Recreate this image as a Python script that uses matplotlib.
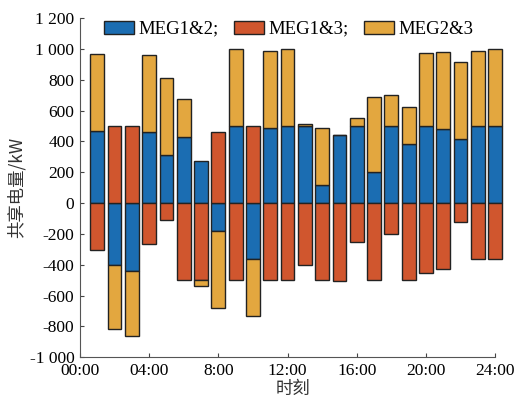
import matplotlib.pyplot as plt
import numpy as np

plt.rcParams['font.family'] = ['Liberation Serif', 'Noto Sans CJK SC']

# hourly shared energy between microgrids (kW), signed
hours = np.arange(1, 25)
meg12 = [465, -400, -440, 460, 310, 430, 275, -180, 500, -365, 490, 500,
         500, 120, 440, 500, 200, 500, 385, 500, 480, 415, 500, 500]
meg13 = [-305, 500, 500, -265, -108, -500, -500, 460, -500, 500, -500, -500,
         -400, -500, -505, -250, -500, -200, -500, -455, -430, -120, -360, -365]
meg23 = [500, -420, -420, 500, 500, 245, -40, -500, 500, -370, 500, 500,
         15, 365, 0, 50, 490, 200, 240, 475, 500, 500, 485, 500]
labels = ['MEG1&2;', 'MEG1&3;', 'MEG2&3']
colors = ['#1b6db2', '#d0562e', '#e3a73f']

xticks = [0, 4, 8, 12, 16, 20, 24]
xticklabels = ['00:00', '04:00', '8:00', '12:00', '16:00', '20:00', '24:00']
yticks = np.arange(-1000, 1201, 200)
yticklabels = ['-1 000', '-800', '-600', '-400', '-200', '0', '200', '400',
               '600', '800', '1 000', '1 200']

fig = plt.figure(figsize=(5.19, 4.04), dpi=100)
ax = fig.add_axes([0.154, 0.116, 0.82, 0.839])

pos_bottom = np.zeros(24)
neg_bottom = np.zeros(24)
for vals, lab, c in zip([meg12, meg13, meg23], labels, colors):
    v = np.array(vals, dtype=float)
    bottom = np.where(v >= 0, pos_bottom, neg_bottom)
    ax.bar(hours, v, width=0.8, bottom=bottom, color=c, edgecolor='#222222',
           linewidth=1.0, label=lab)
    pos_bottom += np.clip(v, 0, None)
    neg_bottom += np.clip(v, None, 0)

ax.set_xlim(0, 24.6)
ax.set_ylim(-1000, 1200)
ax.set_xticks(xticks)
ax.set_xticklabels(xticklabels)
ax.set_yticks(yticks)
ax.set_yticklabels(yticklabels)
ax.tick_params(direction='in', length=3, labelsize=12.5, color='#444444')
ax.tick_params(axis='y', pad=4)
ax.tick_params(axis='x', pad=4)

ax.spines['top'].set_visible(False)
ax.spines['right'].set_visible(False)
ax.spines['bottom'].set_bounds(0, 24)
ax.spines['left'].set_color('#555555')
ax.spines['bottom'].set_color('#555555')

ax.set_ylabel('共享电量/kW', fontsize=12.5, family=['Noto Sans CJK SC'], labelpad=3, color='#333333')
ax.set_xlabel('时刻', fontsize=12.5, family=['Noto Sans CJK SC'], labelpad=1, color='#333333')

ax.legend(loc='center', bbox_to_anchor=(0.49, 0.967), ncol=3, frameon=False,
          fontsize=13.5, handlelength=1.6, handleheight=0.65, columnspacing=0.8,
          handletextpad=0.25, borderpad=0.2)

fig.savefig('out.png', dpi=100)
